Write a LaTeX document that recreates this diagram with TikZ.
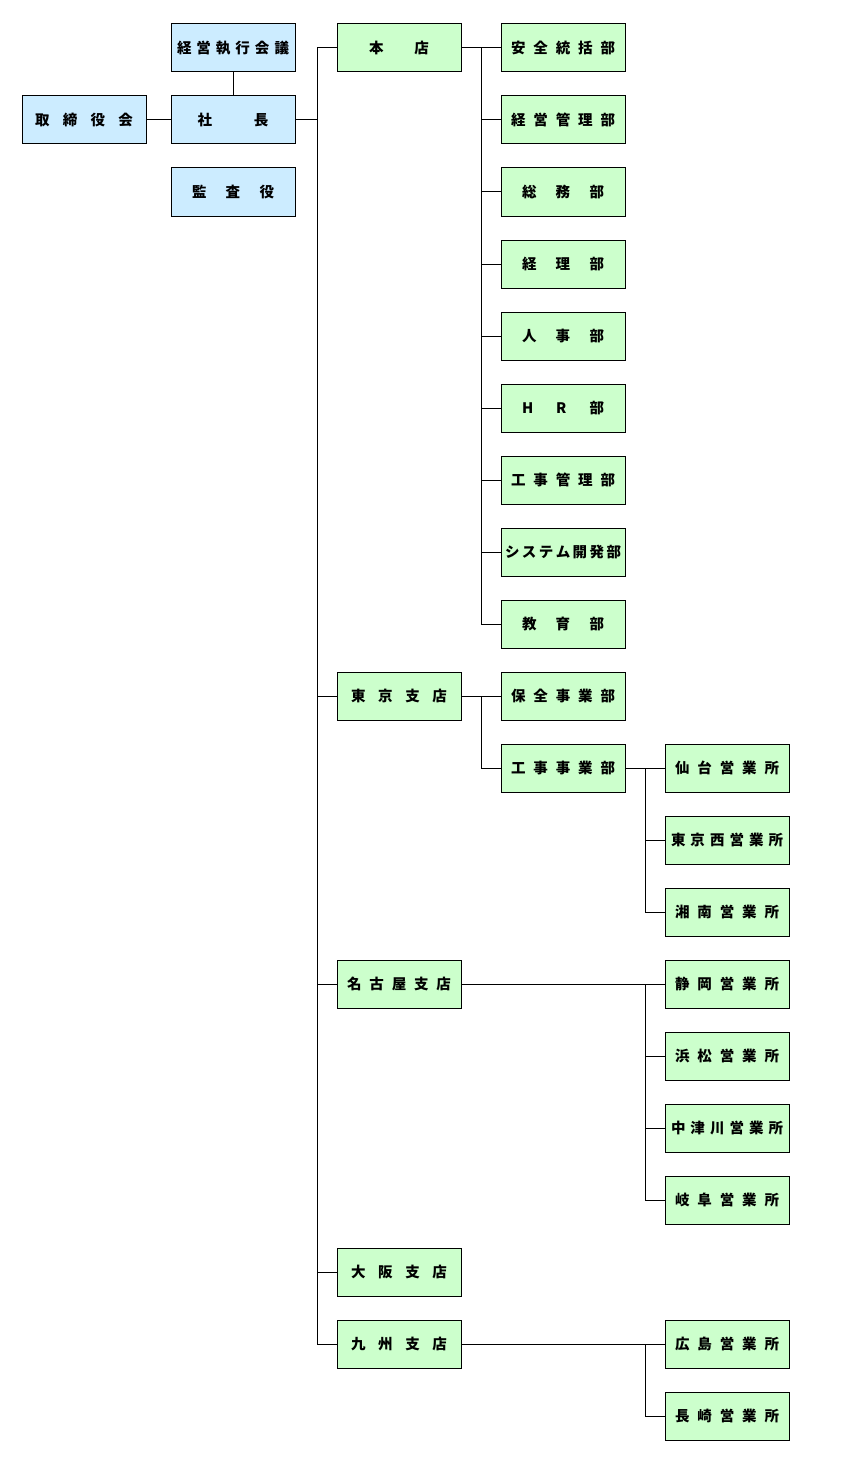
\documentclass[tikz,border=0pt]{standalone}
\usepackage{fontspec}
\setmainfont{Noto Sans CJK JP}

\definecolor{execblue}{RGB}{204,236,255}
\definecolor{deptgreen}{RGB}{204,255,204}

\newcommand{\spreadlbl}[2]{\makebox[#1pt][s]{#2}}

\tikzset{
  orgbox/.style={draw, line width=1pt, minimum width=124pt, minimum height=48pt,
    inner sep=0pt, font=\bfseries\fontsize{14.5}{15}\selectfont},
  execbox/.style={orgbox, fill=execblue},
  deptbox/.style={orgbox, fill=deptgreen},
  wire/.style={line width=1pt}
}

\begin{document}
\begin{tikzpicture}[x=1pt,y=-1pt]
\pgfmathsetmacro{\colA}{84}
\pgfmathsetmacro{\colB}{233}
\pgfmathsetmacro{\colC}{399}
\pgfmathsetmacro{\colD}{563}
\pgfmathsetmacro{\colE}{727}

\fill[white] (0,0) rectangle (863,1466);
\useasboundingbox (0,0) rectangle (863,1466);

% management
\node[execbox] (keiei) at (\colB,48) {\spreadlbl{112}{経 営 執 行 会 議}};
\node[execbox] (torishimari) at (\colA,120) {\spreadlbl{98}{取 締 役 会}};
\node[execbox] (shacho) at (\colB,120) {\spreadlbl{71}{社 長}};
\node[execbox] (kansa) at (\colB,192) {\spreadlbl{82}{監 査 役}};

% head office
\node[deptbox] (honten) at (\colC,48) {\spreadlbl{60}{本 店}};
\node[deptbox] (anzen) at (\colD,48) {\spreadlbl{104}{安 全 統 括 部}};
\node[deptbox] (keieikanri) at (\colD,120) {\spreadlbl{104}{経 営 管 理 部}};
\node[deptbox] (somu) at (\colD,192) {\spreadlbl{82}{総 務 部}};
\node[deptbox] (keiri) at (\colD,264) {\spreadlbl{82}{経 理 部}};
\node[deptbox] (jinji) at (\colD,336) {\spreadlbl{82}{人 事 部}};
\node[deptbox] (hr) at (\colD,408) {\spreadlbl{82}{H R 部}};
\node[deptbox] (kojikanri) at (\colD,480) {\spreadlbl{104}{工 事 管 理 部}};
\node[deptbox] (system) at (\colD,552) {\spreadlbl{116}{シ ス テ ム 開 発 部}};
\node[deptbox] (kyoiku) at (\colD,624) {\spreadlbl{82}{教 育 部}};

% branches
\node[deptbox] (tokyo) at (\colC,696) {\spreadlbl{96}{東 京 支 店}};
\node[deptbox] (hozen) at (\colD,696) {\spreadlbl{104}{保 全 事 業 部}};
\node[deptbox] (kojijigyo) at (\colD,768) {\spreadlbl{104}{工 事 事 業 部}};
\node[deptbox] (sendai) at (\colE,768) {\spreadlbl{104}{仙 台 営 業 所}};
\node[deptbox] (tokyonishi) at (\colE,840) {\spreadlbl{112}{東 京 西 営 業 所}};
\node[deptbox] (shonan) at (\colE,912) {\spreadlbl{104}{湘 南 営 業 所}};

\node[deptbox] (nagoya) at (\colC,984) {\spreadlbl{104}{名 古 屋 支 店}};
\node[deptbox] (shizuoka) at (\colE,984) {\spreadlbl{104}{静 岡 営 業 所}};
\node[deptbox] (hamamatsu) at (\colE,1056) {\spreadlbl{104}{浜 松 営 業 所}};
\node[deptbox] (nakatsugawa) at (\colE,1128) {\spreadlbl{112}{中 津 川 営 業 所}};
\node[deptbox] (gifu) at (\colE,1200) {\spreadlbl{104}{岐 阜 営 業 所}};

\node[deptbox] (osaka) at (\colC,1272) {\spreadlbl{96}{大 阪 支 店}};
\node[deptbox] (kyushu) at (\colC,1344) {\spreadlbl{96}{九 州 支 店}};
\node[deptbox] (hiroshima) at (\colE,1344) {\spreadlbl{104}{広 島 営 業 所}};
\node[deptbox] (nagasaki) at (\colE,1416) {\spreadlbl{104}{長 崎 営 業 所}};

\coordinate (trunkTop) at (317,48);
\coordinate (trunkBot) at (317,1344);
\coordinate (hontenTop) at (481,48);
\coordinate (hontenBot) at (481,624);
\coordinate (tokyoTop) at (481,696);
\coordinate (tokyoBot) at (481,768);
\coordinate (kojiTop) at (645,768);
\coordinate (kojiBot) at (645,912);
\coordinate (nagoyaTop) at (645,984);
\coordinate (nagoyaBot) at (645,1200);
\coordinate (kyushuTop) at (645,1344);
\coordinate (kyushuBot) at (645,1416);

\draw[wire] (keiei) -- (shacho);
\draw[wire] (torishimari) -- (shacho);
\draw[wire] (shacho.east) -- (shacho.east -| trunkTop);

\draw[wire] (honten.west) -- (trunkTop) -- (trunkBot) -- (kyushu.west);
\draw[wire] (tokyo.west) -- (tokyo.west -| trunkTop);
\draw[wire] (nagoya.west) -- (nagoya.west -| trunkTop);
\draw[wire] (osaka.west) -- (osaka.west -| trunkTop);

\draw[wire] (honten.east) -- (anzen.west);
\draw[wire] (hontenTop) -- (hontenBot) -- (kyoiku.west);
\draw[wire] (keieikanri.west) -- (keieikanri.west -| hontenTop);
\draw[wire] (somu.west) -- (somu.west -| hontenTop);
\draw[wire] (keiri.west) -- (keiri.west -| hontenTop);
\draw[wire] (jinji.west) -- (jinji.west -| hontenTop);
\draw[wire] (hr.west) -- (hr.west -| hontenTop);
\draw[wire] (kojikanri.west) -- (kojikanri.west -| hontenTop);
\draw[wire] (system.west) -- (system.west -| hontenTop);

\draw[wire] (tokyo.east) -- (hozen.west);
\draw[wire] (tokyoTop) -- (tokyoBot) -- (kojijigyo.west);

\draw[wire] (kojijigyo.east) -- (sendai.west);
\draw[wire] (kojiTop) -- (kojiBot) -- (shonan.west);
\draw[wire] (tokyonishi.west) -- (tokyonishi.west -| kojiTop);

\draw[wire] (nagoya.east) -- (shizuoka.west);
\draw[wire] (nagoyaTop) -- (nagoyaBot) -- (gifu.west);
\draw[wire] (hamamatsu.west) -- (hamamatsu.west -| nagoyaTop);
\draw[wire] (nakatsugawa.west) -- (nakatsugawa.west -| nagoyaTop);

\draw[wire] (kyushu.east) -- (hiroshima.west);
\draw[wire] (kyushuTop) -- (kyushuBot) -- (nagasaki.west);

\end{tikzpicture}
\end{document}
